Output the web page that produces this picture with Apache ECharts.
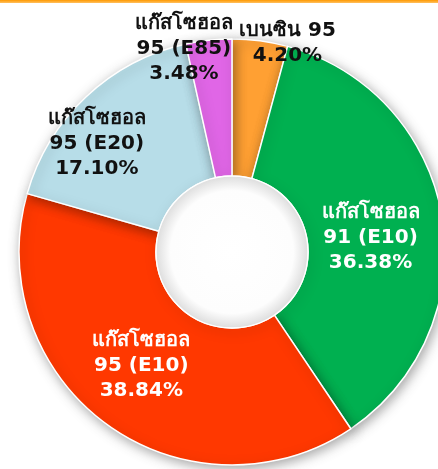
<!DOCTYPE html>
<html>
<head>
<meta charset="utf-8">
<script src="https://cdn.jsdelivr.net/npm/echarts@6/dist/echarts.min.js"></script>
<style>
html,body{margin:0;padding:0;background:#fff;}
#c{width:438px;height:469px;}
</style>
</head>
<body>
<div id="c"></div>
<script>
const categories = ['เบนซิน 95', 'แก๊สโซฮอล 91 (E10)', 'แก๊สโซฮอล 95 (E10)', 'แก๊สโซฮอล 95 (E20)', 'แก๊สโซฮอล 95 (E85)'];
const labelNames = ['เบนซิน 95', 'แก๊สโซฮอล\n91 (E10)', 'แก๊สโซฮอล\n95 (E10)', 'แก๊สโซฮอล\n95 (E20)', 'แก๊สโซฮอล\n95 (E85)'];
const shares = [4.20, 36.38, 38.84, 17.10, 3.48];
const colors = ['#FFA033', '#00B050', '#FF3800', '#B7DDE8', '#E066E6'];
const labelColors = ['#111', '#fff', '#fff', '#111', '#111'];
const labelOffsets = [[36, -62], [-7, 10], [-4, -6], [-34, -1], [-32, -57]];

const data = categories.map((name, i) => ({
  name: name,
  value: shares[i],
  itemStyle: { color: colors[i] },
  label: {
    color: labelColors[i],
    offset: labelOffsets[i],
    formatter: labelNames[i] + '\n' + shares[i].toFixed(2) + '%'
  }
}));

const chart = echarts.init(document.getElementById('c'), null, {renderer: 'canvas'});
chart.setOption({
  animation: false,
  backgroundColor: '#fff',
  graphic: [{
    type: 'rect', left: 0, top: 0, shape: {width: 438, height: 3},
    style: {fill: {type: 'linear', x: 0, y: 0, x2: 0, y2: 1, colorStops: [{offset: 0, color: '#FF9900'}, {offset: 1, color: '#FFC060'}]}},
    silent: true
  }],
  series: [{
    type: 'pie',
    center: [232, 252],
    radius: [76, 213],
    startAngle: 90,
    clockwise: true,
    avoidLabelOverlap: false,
    itemStyle: {
      borderColor: '#fff',
      borderWidth: 1.5,
      shadowBlur: 12,
      shadowColor: 'rgba(0,0,0,0.35)',
      shadowOffsetX: 2,
      shadowOffsetY: 3
    },
    label: {
      show: true,
      position: 'inside',
      fontFamily: 'Tahoma, "DejaVu Sans", "Noto Sans", sans-serif',
      fontWeight: 'bold',
      fontSize: 20,
      lineHeight: 25,
      align: 'center'
    },
    labelLine: {show: false},
    emphasis: {disabled: true},
    data: data
  }, {
    type: 'pie',
    center: [232, 252],
    radius: [0, 76],
    silent: true,
    label: {show: false},
    labelLine: {show: false},
    itemStyle: {
      color: {type: 'radial', x: 0.5, y: 0.5, r: 0.5, colorStops: [{offset: 0, color: '#fff'}, {offset: 0.8, color: '#fdfdfd'}, {offset: 1, color: '#dcdcdc'}]},
      borderColor: '#fff', borderWidth: 1.5
    },
    data: [{value: 1, name: ''}]
  }]
});
</script>
</body>
</html>
